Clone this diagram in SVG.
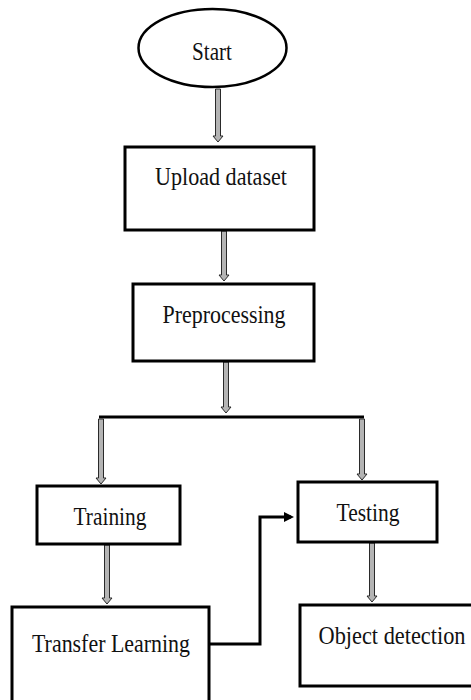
<svg xmlns="http://www.w3.org/2000/svg" width="471" height="700" viewBox="0 0 471 700">
<style>
.box{fill:#fff;stroke:#000;stroke-width:3}
.lbl{font-family:"Liberation Serif","Times New Roman",serif;font-size:25px;fill:#111;text-anchor:middle}
.arr{fill:#b4b4b4;stroke:#2a2a2a;stroke-width:1}
.ln{fill:none;stroke:#000;stroke-width:3}
</style>
<defs>
<marker id="ah" markerWidth="3.5" markerHeight="3.5" refX="2.5" refY="1.75" orient="auto" markerUnits="strokeWidth">
<path d="M0,0 L3.5,1.75 L0,3.5 Z" fill="#000"/>
</marker>
</defs>
<rect width="471" height="700" fill="#fff"/>
<g id="connectors">
<polygon class="arr" points="215.5,89 220.5,89 220.5,136 223,136 218,142 213,136 215.5,136"/>
<polygon class="arr" points="221.5,231 226.5,231 226.5,275 229,275 224,281 219,275 221.5,275"/>
<polygon class="arr" points="223.5,362 228.5,362 228.5,407 231,407 226,413 221,407 223.5,407"/>
<line class="ln" x1="99" y1="417" x2="364" y2="417"/>
<polygon class="arr" points="98.5,419 103.5,419 103.5,478 106,478 101,484 96,478 98.5,478"/>
<polygon class="arr" points="359.5,419 364.5,419 364.5,474 367,474 362,480 357,474 359.5,474"/>
<polygon class="arr" points="104.5,545 109.5,545 109.5,598 112,598 107,604 102,598 104.5,598"/>
<polygon class="arr" points="369.5,543 374.5,543 374.5,596 377,596 372,602 367,596 369.5,596"/>
<path class="ln" d="M209,644 H260 V517 H291" marker-end="url(#ah)"/>
</g>
<g id="start">
<ellipse cx="212.5" cy="48" rx="74" ry="39" fill="#fff" stroke="#000" stroke-width="2.5"/>
<text class="lbl" x="212" y="60" textLength="40" lengthAdjust="spacingAndGlyphs">Start</text>
</g>
<g id="upload">
<rect class="box" x="125" y="147" width="189" height="83"/>
<text class="lbl" x="221" y="185" textLength="132" lengthAdjust="spacingAndGlyphs">Upload dataset</text>
</g>
<g id="preprocessing">
<rect class="box" x="133" y="284" width="181" height="77"/>
<text class="lbl" x="224" y="323" textLength="123" lengthAdjust="spacingAndGlyphs">Preprocessing</text>
</g>
<g id="training">
<rect class="box" x="37" y="486" width="143" height="58"/>
<text class="lbl" x="110" y="525" textLength="73" lengthAdjust="spacingAndGlyphs">Training</text>
</g>
<g id="testing">
<rect class="box" x="298" y="482" width="139" height="60"/>
<text class="lbl" x="368" y="521" textLength="63" lengthAdjust="spacingAndGlyphs">Testing</text>
</g>
<g id="transfer">
<rect class="box" x="12" y="607" width="197" height="110"/>
<text class="lbl" x="111" y="652" textLength="158" lengthAdjust="spacingAndGlyphs">Transfer Learning</text>
</g>
<g id="detection">
<rect class="box" x="300" y="605" width="190" height="81"/>
<text class="lbl" x="392" y="644" textLength="147" lengthAdjust="spacingAndGlyphs">Object detection</text>
</g>
</svg>
